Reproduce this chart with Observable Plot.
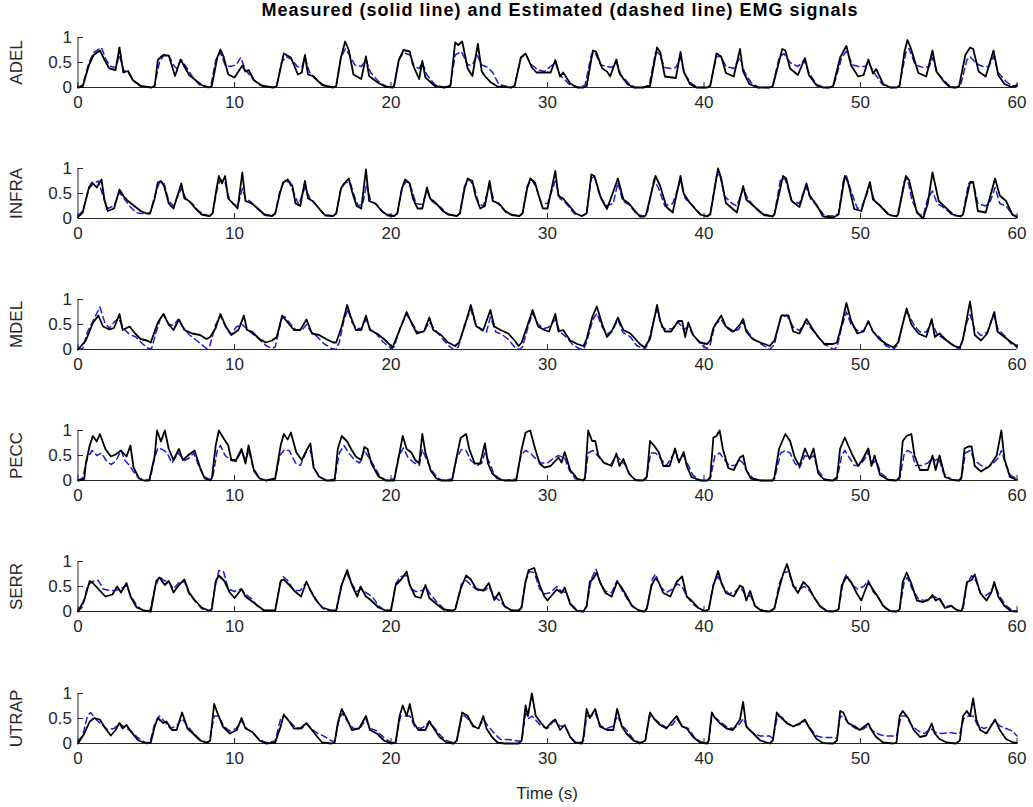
<!DOCTYPE html>
<html>
<head>
<meta charset="utf-8">
<script src="https://cdn.jsdelivr.net/npm/d3@7"></script>
<script src="https://cdn.jsdelivr.net/npm/@observablehq/plot@0.6"></script>
<style>
  body { margin: 0; background: #ffffff; }
  #fig { position: relative; width: 1033px; height: 807px; font-family: "Liberation Sans", Arial, sans-serif; color: #262626; }
  #title { position: absolute; left: 60px; width: 1000px; top: 0px; text-align: center; font-weight: bold; font-size: 18px; letter-spacing: 1px; color: #000; }
  #xlabel { position: absolute; left: 77px; width: 940px; top: 784px; text-align: center; font-size: 17px; color: #262626; }
  .panel { position: absolute; left: 0; }
</style>
</head>
<body>
<div id="fig">
  <div id="title">Measured (solid line) and Estimated (dashed line) EMG signals</div>
  <div id="xlabel">Time (s)</div>
</div>
<script>
const muscles = ["ADEL", "INFRA", "MDEL", "PECC", "SERR", "UTRAP"];
const xTicks = [0, 10, 20, 30, 40, 50, 60];
const xTickLabels = ["0", "10", "20", "30", "40", "50", "60"];
const yTicks = [0, 0.5, 1];
const yTickLabels = ["0", "0.5", "1"];

// [time (s), normalised EMG]
const adelMeasured = [[0,0],[0.3,0.02],[0.7,0.45],[1.0,0.65],[1.4,0.74],[1.7,0.55],[2.0,0.38],[2.4,0.35],[2.65,0.8],[2.9,0.3],[3.2,0.33],[3.5,0.15],[4.0,0.03],[4.7,0],
[4.9,0.02],[5.1,0.55],[5.4,0.64],[5.8,0.64],[6.2,0.23],[6.55,0.56],[7.1,0.25],[7.9,0.05],[8.4,0],
[8.55,0.03],[8.9,0.6],[9.1,0.76],[9.3,0.62],[9.6,0.26],[10.0,0.2],[10.5,0.44],[10.7,0.32],[10.9,0.35],[11.25,0.14],[11.8,0.03],[12.5,0],
[12.7,0.03],[13.15,0.68],[13.6,0.6],[14.05,0.26],[14.3,0.3],[14.5,0.65],[14.7,0.26],[15.0,0.23],[15.6,0.05],[16.3,0],
[16.5,0.03],[16.8,0.6],[17.07,0.92],[17.3,0.75],[17.6,0.26],[18.1,0.17],[18.4,0.62],[18.6,0.23],[19.1,0.11],[19.6,0.02],[20.1,0],
[20.2,0.03],[20.5,0.55],[20.8,0.75],[21.2,0.72],[21.4,0.45],[21.8,0.17],[22.0,0.53],[22.2,0.2],[22.8,0.03],[23.4,0],
[23.8,0.03],[24.1,0.9],[24.3,0.85],[24.55,0.92],[24.9,0.38],[25.2,0.23],[25.55,0.87],[25.8,0.32],[26.0,0.23],[26.35,0.11],[26.8,0.02],[27.7,0],
[27.9,0.03],[28.3,0.6],[28.6,0.68],[29.0,0.4],[29.3,0.3],[29.8,0.3],[30.2,0.3],[30.5,0.55],[30.8,0.22],[31.0,0.3],[31.45,0.08],[31.9,0],[32.3,0],
[32.5,0.03],[32.9,0.74],[33.1,0.72],[33.5,0.38],[33.8,0.32],[34.0,0.22],[34.4,0.56],[34.6,0.28],[35.1,0.07],[35.5,0],[36.1,0],
[36.55,0.03],[37.0,0.8],[37.2,0.71],[37.5,0.22],[38.2,0.19],[38.5,0.71],[38.7,0.32],[39.1,0.07],[39.5,0],[40.2,0],
[40.4,0.03],[40.8,0.68],[41.1,0.62],[41.4,0.29],[41.9,0.22],[42.3,0.77],[42.5,0.32],[42.9,0.07],[43.4,0],[44.2,0],
[44.4,0.03],[45.0,0.77],[45.2,0.74],[45.5,0.38],[46.0,0.25],[46.45,0.59],[46.7,0.25],[47.2,0.04],[47.6,0],[48.0,0],
[48.25,0.03],[48.7,0.6],[49.1,0.83],[49.4,0.44],[49.85,0.22],[50.2,0.25],[50.5,0.56],[50.8,0.28],[51.0,0.37],[51.45,0.07],[51.9,0],[52.3,0],
[52.5,0.03],[52.8,0.7],[53.0,0.95],[53.2,0.8],[53.7,0.29],[54.2,0.22],[54.6,0.74],[54.85,0.32],[55.3,0.13],[55.7,0.01],[56.1,0],
[56.3,0.03],[56.7,0.65],[57.0,0.8],[57.2,0.77],[57.55,0.32],[58.0,0.22],[58.5,0.74],[58.8,0.25],[59.2,0.07],[59.65,0.01],[60,0.05]];

const adelEstimated = [[0,0],[0.3,0.05],[0.7,0.5],[1.0,0.7],[1.5,0.8],[1.8,0.55],[2.1,0.42],[2.4,0.4],[2.65,0.65],[2.9,0.35],[3.2,0.3],[3.6,0.12],[4.1,0.02],[4.7,0],
[4.9,0.05],[5.2,0.5],[5.5,0.66],[5.8,0.64],[6.1,0.45],[6.3,0.38],[6.6,0.55],[6.9,0.42],[7.3,0.22],[7.8,0.04],[8.3,0],
[8.5,0.05],[8.8,0.55],[9.1,0.7],[9.4,0.45],[9.7,0.42],[10.1,0.45],[10.4,0.6],[10.7,0.35],[11.1,0.2],[11.6,0.05],[12.5,0],
[12.7,0.05],[13.0,0.5],[13.3,0.62],[13.7,0.55],[14.0,0.42],[14.3,0.4],[14.5,0.6],[14.8,0.3],[15.2,0.18],[15.7,0.04],[16.3,0],
[16.5,0.05],[16.8,0.6],[17.1,0.78],[17.4,0.62],[17.7,0.45],[18.1,0.42],[18.4,0.55],[18.7,0.3],[19.2,0.12],[19.7,0.02],[20.1,0],
[20.2,0.05],[20.5,0.55],[20.8,0.7],[21.2,0.65],[21.5,0.42],[21.8,0.38],[22.0,0.5],[22.3,0.25],[22.8,0.06],[23.4,0],
[23.8,0.05],[24.1,0.65],[24.5,0.72],[24.9,0.45],[25.2,0.45],[25.5,0.65],[25.8,0.45],[26.2,0.4],[26.5,0.3],[26.9,0.06],[27.7,0],
[27.9,0.05],[28.3,0.6],[28.6,0.66],[29.0,0.45],[29.4,0.35],[29.8,0.32],[30.5,0.5],[30.8,0.25],[31.4,0.06],[32.0,0],
[32.4,0.05],[32.8,0.65],[33.0,0.72],[33.4,0.45],[33.8,0.42],[34.1,0.4],[34.4,0.5],[34.7,0.25],[35.2,0.08],[35.6,0],[36.1,0],
[36.5,0.05],[36.9,0.7],[37.1,0.7],[37.5,0.4],[37.9,0.38],[38.2,0.4],[38.5,0.6],[38.8,0.25],[39.2,0.08],[39.6,0],[40.2,0],
[40.4,0.05],[40.8,0.62],[41.1,0.62],[41.4,0.42],[41.9,0.38],[42.3,0.6],[42.6,0.3],[43.0,0.1],[43.5,0],[44.2,0],
[44.4,0.05],[44.8,0.6],[45.1,0.68],[45.5,0.5],[46.0,0.42],[46.4,0.55],[46.7,0.3],[47.2,0.06],[47.7,0],[48.1,0],
[48.3,0.05],[48.8,0.6],[49.1,0.72],[49.5,0.45],[49.9,0.42],[50.3,0.42],[50.5,0.5],[50.9,0.28],[51.4,0.06],[51.9,0],[52.3,0],
[52.5,0.05],[52.9,0.7],[53.1,0.78],[53.5,0.45],[54.0,0.4],[54.4,0.42],[54.6,0.6],[54.9,0.3],[55.4,0.12],[55.8,0],[56.2,0],
[56.4,0.05],[56.8,0.55],[57.0,0.62],[57.4,0.48],[57.8,0.42],[58.2,0.42],[58.5,0.62],[58.8,0.3],[59.3,0.12],[59.7,0.03],[60,0.02]];

const infraMeasured = [[0,0.03],[0.3,0.12],[0.7,0.62],[0.9,0.72],[1.2,0.62],[1.5,0.78],[1.7,0.35],[1.9,0.15],[2.3,0.2],[2.65,0.58],[2.9,0.45],[3.2,0.35],[3.6,0.25],[4.0,0.15],[4.4,0.1],
[4.6,0.1],[4.9,0.4],[5.1,0.72],[5.3,0.75],[5.5,0.65],[5.8,0.3],[6.1,0.2],[6.6,0.7],[6.8,0.4],[7.1,0.35],[7.5,0.2],[7.9,0.08],[8.4,0.05],
[8.6,0.1],[8.8,0.5],[9.0,0.85],[9.2,0.7],[9.4,0.85],[9.6,0.4],[9.9,0.3],[10.2,0.2],[10.5,0.92],[10.7,0.35],[11.1,0.3],[11.5,0.2],[11.9,0.08],[12.4,0.05],
[12.6,0.1],[12.9,0.5],[13.1,0.72],[13.4,0.78],[13.7,0.65],[13.9,0.3],[14.2,0.25],[14.5,0.75],[14.7,0.4],[15.0,0.35],[15.4,0.2],[15.8,0.06],[16.3,0.05],
[16.5,0.1],[16.8,0.6],[17.0,0.7],[17.3,0.8],[17.5,0.55],[17.8,0.25],[18.1,0.2],[18.4,0.98],[18.6,0.35],[19.0,0.3],[19.4,0.15],[19.8,0.06],[20.2,0.05],
[20.4,0.1],[20.7,0.6],[20.9,0.78],[21.2,0.7],[21.4,0.4],[21.7,0.2],[22.0,0.2],[22.3,0.62],[22.5,0.4],[22.9,0.3],[23.3,0.15],[23.7,0.08],[24.2,0.05],
[24.4,0.1],[24.7,0.6],[24.9,0.8],[25.2,0.75],[25.4,0.45],[25.7,0.2],[26.0,0.25],[26.3,0.75],[26.5,0.35],[26.9,0.3],[27.3,0.15],[27.7,0.07],[28.2,0.05],
[28.4,0.1],[28.7,0.6],[28.9,0.8],[29.2,0.72],[29.4,0.5],[29.7,0.2],[30.0,0.2],[30.5,0.95],[30.7,0.45],[31.0,0.4],[31.4,0.25],[31.8,0.1],[32.2,0.05],
[32.5,0.1],[32.8,0.88],[33.0,0.85],[33.4,0.42],[33.8,0.19],[34.5,0.8],[34.85,0.38],[35.2,0.3],[35.9,0.04],[36.2,0.04],
[36.3,0.08],[36.9,0.85],[37.2,0.65],[37.6,0.23],[38.0,0.12],[38.5,0.85],[38.7,0.5],[39.1,0.31],[39.75,0.08],[40.2,0.04],
[40.4,0.08],[40.9,1.0],[41.1,0.8],[41.4,0.31],[42.1,0.12],[42.5,0.65],[42.7,0.38],[43.1,0.27],[43.8,0.08],[44.4,0.04],
[44.5,0.08],[45.05,0.85],[45.25,0.8],[45.6,0.35],[46.1,0.23],[46.55,0.7],[46.75,0.46],[47.2,0.27],[47.6,0.04],[48.25,0.02],
[48.6,0.08],[49.0,0.85],[49.2,0.73],[49.6,0.19],[50.05,0.15],[50.6,0.73],[50.8,0.38],[51.2,0.27],[51.8,0.08],[52.3,0.04],
[52.4,0.08],[52.9,0.85],[53.1,0.77],[53.6,0.12],[54.0,0.0],[54.3,0.3],[54.6,0.92],[55.0,0.35],[55.4,0.23],[55.9,0.08],[56.4,0.04],
[56.55,0.08],[57.0,0.73],[57.2,0.73],[57.5,0.15],[58.0,0.12],[58.6,0.8],[58.9,0.46],[59.3,0.35],[59.7,0.08],[60,0.02]];

const infraEstimated = [[0,0.05],[0.3,0.15],[0.7,0.6],[1.0,0.7],[1.3,0.75],[1.6,0.45],[1.9,0.2],[2.3,0.25],[2.65,0.52],[2.9,0.42],[3.3,0.25],[3.7,0.12],[4.0,0.1],[4.4,0.1],
[4.6,0.1],[4.9,0.45],[5.2,0.72],[5.5,0.7],[5.8,0.35],[6.1,0.25],[6.6,0.6],[6.9,0.4],[7.3,0.3],[7.7,0.15],[8.2,0.06],[8.4,0.05],
[8.6,0.1],[8.9,0.6],[9.1,0.78],[9.4,0.72],[9.6,0.45],[9.9,0.3],[10.2,0.25],[10.5,0.6],[10.7,0.4],[11.1,0.32],[11.5,0.18],[12.0,0.06],[12.4,0.05],
[12.6,0.1],[12.9,0.55],[13.2,0.75],[13.5,0.72],[13.8,0.5],[14.1,0.28],[14.5,0.62],[14.8,0.42],[15.2,0.28],[15.7,0.08],[16.3,0.05],
[16.5,0.1],[16.8,0.6],[17.1,0.72],[17.4,0.72],[17.6,0.5],[17.9,0.25],[18.2,0.3],[18.45,0.7],[18.7,0.35],[19.1,0.28],[19.5,0.12],[20.2,0.05],
[20.4,0.1],[20.7,0.62],[21.0,0.75],[21.3,0.6],[21.6,0.3],[22.0,0.28],[22.3,0.55],[22.6,0.35],[23.0,0.25],[23.2,0.22],[23.6,0.08],[24.2,0.05],
[24.4,0.1],[24.7,0.65],[25.0,0.78],[25.3,0.65],[25.6,0.3],[25.9,0.25],[26.3,0.65],[26.6,0.35],[27.0,0.25],[27.4,0.1],[28.2,0.05],
[28.4,0.1],[28.7,0.65],[29.0,0.78],[29.3,0.6],[29.6,0.3],[30.0,0.3],[30.5,0.75],[30.8,0.4],[31.2,0.3],[31.7,0.1],[32.2,0.05],
[32.5,0.1],[32.8,0.8],[33.0,0.85],[33.3,0.5],[33.7,0.25],[34.2,0.3],[34.5,0.72],[34.8,0.35],[35.2,0.28],[35.7,0.08],[36.2,0.05],
[36.4,0.15],[36.8,0.78],[37.1,0.6],[37.5,0.25],[38.0,0.3],[38.5,0.75],[38.8,0.4],[39.3,0.25],[39.8,0.08],[40.2,0.05],
[40.4,0.1],[40.8,0.85],[41.0,0.9],[41.3,0.45],[41.8,0.3],[42.1,0.25],[42.5,0.6],[42.8,0.4],[43.3,0.2],[43.8,0.06],[44.4,0.05],
[44.5,0.1],[44.9,0.8],[45.2,0.78],[45.6,0.35],[46.1,0.3],[46.5,0.65],[46.8,0.4],[47.2,0.25],[47.7,0.06],[48.3,0.05],
[48.6,0.1],[48.9,0.75],[49.1,0.85],[49.4,0.55],[49.8,0.2],[50.1,0.25],[50.6,0.65],[50.9,0.35],[51.3,0.25],[51.8,0.06],[52.3,0.05],
[52.4,0.1],[52.8,0.75],[53.0,0.8],[53.3,0.35],[53.7,0.1],[54.0,0.05],[54.3,0.4],[54.6,0.55],[54.9,0.3],[55.4,0.2],[55.9,0.06],[56.4,0.05],
[56.55,0.1],[56.9,0.7],[57.2,0.72],[57.5,0.3],[58.0,0.25],[58.3,0.35],[58.6,0.62],[58.9,0.3],[59.3,0.25],[59.7,0.08],[60,0.05]];

const mdelMeasured = [[0,0],[0.5,0.18],[0.95,0.53],[1.3,0.68],[1.6,0.46],[2.0,0.4],[2.3,0.43],[2.65,0.71],[2.85,0.39],[3.3,0.46],[3.65,0.32],[4.0,0.21],[4.4,0.18],
[4.65,0.14],[5.1,0.54],[5.45,0.71],[5.8,0.5],[6.1,0.39],[6.45,0.6],[6.8,0.39],[7.3,0.32],[7.8,0.29],[8.2,0.21],
[8.45,0.25],[8.8,0.43],[9.1,0.71],[9.45,0.46],[9.8,0.29],[10.25,0.39],[10.6,0.68],[10.8,0.39],[11.1,0.36],[11.6,0.21],[12.0,0.14],[12.4,0.18],
[12.7,0.25],[13.05,0.68],[13.4,0.54],[13.8,0.39],[14.2,0.39],[14.6,0.6],[14.95,0.32],[15.4,0.29],[15.85,0.21],[16.3,0.14],
[16.5,0.14],[16.85,0.46],[17.2,0.89],[17.4,0.68],[17.75,0.39],[18.1,0.39],[18.4,0.68],[18.65,0.39],[19.1,0.32],[19.55,0.21],[20.0,0.07],
[20.1,0.04],[20.55,0.39],[21.0,0.75],[21.3,0.54],[21.65,0.32],[22.1,0.36],[22.45,0.64],[22.7,0.39],[23.2,0.29],[23.65,0.14],[24.1,0.07],
[24.35,0.14],[24.7,0.46],[25.1,0.89],[25.45,0.46],[25.9,0.39],[26.35,0.79],[26.6,0.46],[27.0,0.39],[27.5,0.32],[27.9,0.18],[28.15,0.07],
[28.35,0.14],[28.7,0.46],[29.05,0.79],[29.4,0.46],[29.8,0.39],[30.1,0.36],[30.5,0.71],[30.7,0.36],[31.0,0.39],[31.45,0.18],[31.9,0.11],[32.3,0.07],
[32.5,0.21],[32.85,0.64],[33.15,0.86],[33.5,0.5],[33.8,0.25],[34.1,0.36],[34.5,0.64],[34.85,0.39],[35.3,0.32],[35.9,0.11],[36.2,0.04],
[36.55,0.21],[37.0,0.89],[37.2,0.57],[37.5,0.36],[37.9,0.36],[38.35,0.57],[38.6,0.57],[38.8,0.25],[39.0,0.54],[39.3,0.29],[39.75,0.14],[40.2,0.11],
[40.4,0.18],[40.6,0.43],[41.1,0.68],[41.4,0.46],[41.9,0.36],[42.3,0.5],[42.5,0.61],[42.7,0.36],[43.1,0.21],[43.6,0.14],[44.2,0.07],
[44.5,0.18],[44.95,0.68],[45.4,0.68],[45.7,0.36],[46.1,0.32],[46.55,0.61],[46.9,0.43],[47.3,0.25],[47.7,0.11],[48.25,0.11],
[48.5,0.14],[48.8,0.5],[49.1,0.93],[49.4,0.57],[49.8,0.32],[50.2,0.36],[50.5,0.57],[50.8,0.36],[51.2,0.21],[51.65,0.11],[52.1,0.04],
[52.4,0.14],[52.95,0.82],[53.25,0.5],[53.7,0.32],[54.2,0.25],[54.55,0.61],[54.75,0.25],[55.05,0.32],[55.5,0.18],[56.0,0.07],[56.35,0.04],
[56.55,0.21],[57.0,0.96],[57.3,0.29],[57.7,0.18],[58.1,0.32],[58.55,0.75],[58.75,0.36],[59.2,0.25],[59.65,0.14],[60,0.07]];

const mdelEstimated = [[0,0],[0.3,0.02],[0.6,0.35],[1.0,0.6],[1.4,0.85],[1.7,0.55],[2.0,0.42],[2.3,0.55],[2.6,0.62],[2.9,0.42],[3.3,0.3],[3.7,0.25],[4.1,0.12],[4.5,0.02],
[4.7,0.02],[5.0,0.35],[5.3,0.65],[5.5,0.7],[5.8,0.5],[6.1,0.48],[6.4,0.6],[6.7,0.45],[7.1,0.3],[7.5,0.2],[7.9,0.1],[8.2,0.02],
[8.4,0.05],[8.8,0.5],[9.1,0.68],[9.5,0.4],[9.8,0.3],[10.1,0.45],[10.5,0.5],[10.8,0.4],[11.2,0.3],[11.6,0.2],[12.0,0.08],[12.4,0.02],
[12.6,0.05],[13.0,0.6],[13.2,0.66],[13.6,0.5],[13.9,0.4],[14.3,0.38],[14.6,0.5],[14.9,0.35],[15.3,0.25],[15.7,0.12],[16.2,0.02],[16.5,0],
[16.7,0.15],[17.0,0.6],[17.25,0.8],[17.5,0.55],[17.8,0.42],[18.1,0.42],[18.4,0.6],[18.7,0.4],[19.1,0.3],[19.5,0.15],[20.0,0.02],
[20.2,0.05],[20.6,0.45],[21.0,0.7],[21.3,0.55],[21.7,0.35],[22.1,0.35],[22.45,0.55],[22.8,0.4],[23.2,0.25],[23.6,0.1],[24.0,0],
[24.3,0.05],[24.7,0.5],[25.1,0.8],[25.4,0.5],[25.8,0.38],[26.1,0.35],[26.35,0.65],[26.7,0.35],[27.1,0.3],[27.5,0.2],[27.9,0.05],[28.2,0],
[28.4,0.05],[28.8,0.5],[29.05,0.72],[29.4,0.5],[29.8,0.42],[30.1,0.45],[30.5,0.6],[30.8,0.35],[31.2,0.25],[31.6,0.1],[32.0,0.02],[32.3,0],
[32.5,0.15],[32.9,0.6],[33.15,0.72],[33.5,0.45],[33.8,0.3],[34.2,0.4],[34.5,0.6],[34.8,0.35],[35.3,0.25],[35.7,0.08],[36.2,0],
[36.4,0.1],[36.8,0.6],[37.0,0.8],[37.3,0.45],[37.6,0.4],[38.0,0.42],[38.35,0.55],[38.7,0.4],[39.0,0.45],[39.4,0.25],[39.8,0.1],[40.2,0.02],
[40.4,0.1],[40.7,0.5],[41.1,0.6],[41.4,0.45],[41.8,0.35],[42.2,0.4],[42.5,0.55],[42.8,0.35],[43.2,0.2],[43.6,0.12],[44.2,0],
[44.5,0.1],[44.9,0.65],[45.3,0.68],[45.7,0.45],[46.1,0.38],[46.5,0.55],[46.9,0.4],[47.3,0.25],[47.7,0.1],[48.3,0],
[48.5,0.05],[48.8,0.45],[49.1,0.75],[49.4,0.5],[49.9,0.35],[50.2,0.38],[50.5,0.55],[50.8,0.35],[51.2,0.25],[51.6,0.08],[52.1,0],
[52.4,0.1],[52.8,0.65],[53.0,0.75],[53.4,0.5],[53.8,0.35],[54.2,0.35],[54.55,0.55],[54.9,0.3],[55.4,0.2],[55.9,0.08],[56.35,0],
[56.5,0.15],[56.8,0.55],[57.0,0.7],[57.3,0.4],[57.7,0.28],[58.1,0.35],[58.5,0.7],[58.8,0.4],[59.2,0.28],[59.6,0.12],[60,0.05]];

const peccMeasured = [[0,0],[0.4,0.03],[0.5,0.34],[0.75,0.7],[0.95,0.89],[1.2,0.78],[1.4,0.93],[1.75,0.63],[2.1,0.48],[2.4,0.52],[2.75,0.6],[3.1,0.48],[3.35,0.7],[3.55,0.26],[3.9,0.04],[4.2,0],
[4.55,0],[4.9,0.49],[5.05,1.0],[5.3,0.78],[5.55,1.0],[5.8,0.63],[6.1,0.41],[6.45,0.63],[6.7,0.41],[7.1,0.52],[7.45,0.6],[7.8,0.26],[8.1,0.04],[8.45,0],
[8.55,0.04],[8.8,0.7],[9.0,1.0],[9.35,0.82],[9.6,0.7],[9.8,0.41],[10.1,0.41],[10.45,0.63],[10.7,0.34],[10.9,0.7],[11.25,0.19],[11.6,0.04],[12.0,0],
[12.6,0.04],[12.95,0.7],[13.15,0.93],[13.4,0.82],[13.6,0.96],[13.95,0.56],[14.3,0.41],[14.6,0.6],[14.85,0.74],[15.05,0.26],[15.4,0.08],[15.85,0],
[16.4,0],[16.6,0.63],[16.85,0.89],[17.2,0.78],[17.45,0.63],[17.75,0.48],[18.1,0.41],[18.3,0.67],[18.5,0.63],[18.75,0.34],[19.2,0.08],[19.65,0],
[20.2,0],[20.5,0.48],[20.75,0.89],[21.0,0.63],[21.3,0.56],[21.55,0.41],[21.8,0.34],[22.0,0.93],[22.2,0.56],[22.55,0.19],[22.9,0.04],[23.2,0],
[23.9,0],[24.2,0.48],[24.45,0.85],[24.8,0.93],[25.0,0.63],[25.35,0.34],[25.7,0.34],[26.0,0.74],[26.2,0.34],[26.45,0.15],[26.8,0.04],[27.25,0],
[28.0,0],[28.35,0.63],[28.6,0.96],[28.9,1.0],[29.15,0.7],[29.5,0.34],[29.8,0.26],[30.2,0.29],[30.7,0.46],[30.9,0.36],[31.1,0.57],[31.45,0.21],[31.9,0.04],[32.3,0],
[32.4,0.07],[32.6,1.0],[32.85,0.79],[33.05,0.79],[33.25,0.5],[33.6,0.36],[34.1,0.29],[34.4,0.54],[34.6,0.29],[34.85,0.43],[35.2,0.14],[35.6,0.01],[36.1,0],
[36.35,0.07],[36.55,0.79],[36.85,0.68],[37.1,0.57],[37.4,0.29],[37.8,0.29],[38.15,0.64],[38.4,0.36],[38.7,0.57],[38.9,0.29],[39.2,0.07],[39.75,0],[40.2,0],
[40.4,0.07],[40.6,0.86],[40.8,0.89],[41.0,1.0],[41.2,0.64],[41.55,0.25],[41.9,0.21],[42.3,0.46],[42.5,0.5],[42.7,0.21],[43.0,0.04],[43.6,0],[44.4,0],
[44.5,0.07],[44.8,0.64],[45.2,0.93],[45.5,0.79],[45.8,0.46],[46.1,0.29],[46.45,0.64],[46.75,0.43],[47.0,0.64],[47.3,0.14],[47.7,0.01],[48.25,0],
[48.5,0.07],[48.7,0.64],[49.0,0.86],[49.2,0.71],[49.5,0.5],[49.85,0.29],[50.15,0.43],[50.5,0.64],[50.7,0.29],[50.9,0.5],[51.25,0.11],[51.8,0.01],[52.3,0],
[52.5,0.07],[52.7,0.79],[52.95,0.89],[53.25,0.93],[53.45,0.5],[53.8,0.21],[54.3,0.21],[54.6,0.5],[54.8,0.21],[55.05,0.5],[55.4,0.07],[55.9,0.01],[56.3,0],
[56.45,0.07],[56.65,0.64],[56.9,0.68],[57.1,0.68],[57.3,0.29],[57.7,0.18],[58.25,0.29],[58.7,0.5],[59.0,1.0],[59.2,0.43],[59.55,0.07],[60,0.01]];

const peccEstimated = [[0,0],[0.3,0.05],[0.6,0.45],[0.9,0.6],[1.2,0.5],[1.5,0.55],[1.8,0.4],[2.1,0.32],[2.4,0.38],[2.75,0.6],[3.0,0.4],[3.3,0.3],[3.6,0.15],[3.9,0.05],[4.3,0],
[4.6,0.02],[4.9,0.45],[5.1,0.65],[5.4,0.62],[5.7,0.55],[6.0,0.35],[6.4,0.55],[6.8,0.4],[7.1,0.45],[7.4,0.55],[7.7,0.3],[8.0,0.1],[8.4,0.02],
[8.6,0.05],[8.9,0.6],[9.1,0.7],[9.4,0.5],[9.8,0.4],[10.1,0.38],[10.45,0.6],[10.7,0.4],[10.9,0.6],[11.2,0.25],[11.6,0.05],[12.0,0],
[12.6,0.03],[12.9,0.5],[13.2,0.62],[13.5,0.6],[13.9,0.35],[14.2,0.3],[14.6,0.58],[14.85,0.6],[15.1,0.25],[15.4,0.08],[15.9,0],
[16.4,0.03],[16.7,0.55],[17.0,0.7],[17.3,0.55],[17.7,0.4],[18.0,0.35],[18.3,0.6],[18.6,0.45],[18.9,0.3],[19.3,0.08],[19.7,0],
[20.2,0.03],[20.5,0.5],[20.8,0.65],[21.1,0.45],[21.5,0.35],[21.8,0.3],[22.0,0.62],[22.3,0.4],[22.6,0.2],[23.0,0.05],[23.3,0],
[23.9,0.03],[24.2,0.45],[24.5,0.62],[24.8,0.6],[25.1,0.4],[25.5,0.3],[25.8,0.35],[26.0,0.55],[26.3,0.35],[26.6,0.12],[27.0,0.02],[27.3,0],
[28.0,0.03],[28.3,0.5],[28.6,0.6],[28.9,0.55],[29.2,0.45],[29.6,0.35],[30.0,0.35],[30.4,0.45],[30.7,0.5],[31.1,0.45],[31.4,0.2],[31.8,0.03],[32.3,0],
[32.4,0.03],[32.6,0.55],[32.9,0.6],[33.2,0.5],[33.6,0.35],[34.0,0.3],[34.4,0.5],[34.7,0.4],[35.0,0.3],[35.3,0.1],[35.7,0],[36.1,0],
[36.3,0.03],[36.6,0.55],[36.9,0.55],[37.2,0.45],[37.6,0.3],[38.1,0.55],[38.4,0.4],[38.7,0.5],[39.0,0.3],[39.3,0.1],[39.8,0],[40.2,0],
[40.4,0.03],[40.7,0.5],[41.0,0.55],[41.3,0.42],[41.6,0.3],[42.0,0.3],[42.3,0.4],[42.5,0.35],[42.7,0.2],[43.1,0.05],[43.6,0],[44.4,0],
[44.5,0.03],[44.9,0.55],[45.2,0.6],[45.5,0.55],[45.8,0.35],[46.1,0.25],[46.45,0.5],[46.8,0.45],[47.0,0.5],[47.3,0.2],[47.7,0.03],[48.2,0],
[48.5,0.03],[48.8,0.5],[49.0,0.6],[49.3,0.45],[49.6,0.3],[49.9,0.3],[50.2,0.4],[50.5,0.55],[50.8,0.35],[51.0,0.4],[51.3,0.15],[51.8,0.02],[52.3,0],
[52.5,0.03],[52.8,0.55],[53.0,0.6],[53.3,0.55],[53.5,0.3],[53.9,0.3],[54.3,0.35],[54.6,0.45],[54.8,0.4],[55.0,0.45],[55.3,0.15],[55.8,0.02],[56.3,0],
[56.45,0.03],[56.7,0.55],[57.0,0.6],[57.3,0.4],[57.7,0.3],[58.1,0.25],[58.5,0.35],[58.8,0.45],[59.0,0.6],[59.3,0.3],[59.6,0.1],[60,0.03]];

const serrMeasured = [[0,0],[0.4,0.23],[0.75,0.61],[0.95,0.57],[1.3,0.45],[1.75,0.3],[2.2,0.34],[2.5,0.5],[2.75,0.38],[3.1,0.57],[3.35,0.3],[3.75,0.08],[4.2,0.02],
[4.65,0],[5.0,0.61],[5.2,0.68],[5.55,0.53],[5.8,0.61],[6.1,0.38],[6.45,0.53],[6.8,0.64],[7.1,0.38],[7.45,0.23],[7.9,0.08],[8.35,0.02],
[8.55,0.04],[8.8,0.61],[9.0,0.72],[9.35,0.61],[9.7,0.38],[10.0,0.27],[10.45,0.45],[10.7,0.3],[11.0,0.23],[11.5,0.11],[11.9,0.02],
[12.6,0.02],[12.95,0.61],[13.15,0.64],[13.5,0.53],[13.8,0.42],[14.25,0.3],[14.6,0.6],[14.85,0.42],[15.2,0.23],[15.6,0.08],[16.2,0.02],
[16.5,0.02],[16.85,0.53],[17.2,0.83],[17.5,0.53],[17.85,0.3],[18.05,0.5],[18.4,0.3],[18.7,0.23],[19.2,0.08],[19.65,0.02],
[20.0,0.02],[20.3,0.53],[20.65,0.64],[21.0,0.8],[21.2,0.53],[21.55,0.3],[21.9,0.27],[22.2,0.53],[22.45,0.27],[22.9,0.15],[23.35,0.04],[23.9,0.02],
[24.1,0.04],[24.45,0.45],[24.8,0.72],[25.1,0.64],[25.45,0.45],[25.9,0.42],[26.25,0.57],[26.6,0.23],[26.9,0.38],[27.25,0.11],[27.7,0.02],[28.15,0.02],
[28.35,0.08],[28.6,0.61],[28.8,0.83],[29.15,0.87],[29.5,0.53],[29.8,0.3],[30.0,0.22],[30.4,0.37],[30.6,0.44],[30.9,0.37],[31.1,0.48],[31.45,0.15],[31.9,0.01],[32.3,0],
[32.5,0.11],[32.7,0.59],[32.95,0.67],[33.15,0.78],[33.35,0.59],[33.7,0.37],[34.1,0.3],[34.45,0.59],[34.65,0.52],[34.95,0.37],[35.4,0.11],[35.9,0.01],[36.2,0],
[36.35,0.07],[36.65,0.52],[36.9,0.67],[37.1,0.59],[37.4,0.37],[37.85,0.3],[38.25,0.59],[38.6,0.7],[38.9,0.3],[39.2,0.22],[39.65,0.07],[40.05,0.01],
[40.3,0.04],[40.6,0.52],[40.9,0.81],[41.1,0.59],[41.4,0.37],[41.9,0.3],[42.3,0.52],[42.5,0.48],[42.7,0.22],[42.95,0.41],[43.25,0.11],[43.7,0.01],[44.2,0],
[44.5,0.07],[44.85,0.52],[45.05,0.74],[45.3,0.95],[45.5,0.74],[45.7,0.52],[46.0,0.37],[46.35,0.59],[46.7,0.48],[47.0,0.3],[47.4,0.11],[47.85,0.01],[48.25,0],
[48.6,0.04],[48.8,0.52],[49.1,0.7],[49.4,0.59],[49.75,0.37],[50.05,0.22],[50.5,0.59],[50.8,0.44],[51.1,0.3],[51.45,0.11],[51.9,0.01],[52.3,0],
[52.5,0.04],[52.7,0.59],[52.95,0.78],[53.25,0.56],[53.6,0.22],[54.0,0.19],[54.3,0.22],[54.6,0.33],[54.8,0.22],[55.05,0.26],[55.4,0.07],[55.8,0.11],[56.1,0.04],[56.45,0.01],
[56.55,0.11],[56.8,0.59],[57.1,0.63],[57.3,0.74],[57.65,0.37],[58.05,0.22],[58.35,0.37],[58.55,0.59],[58.8,0.3],[59.2,0.11],[59.6,0.01],[60,0]];

const serrEstimated = [[0,0],[0.3,0.1],[0.6,0.5],[0.9,0.6],[1.3,0.62],[1.6,0.45],[2.0,0.42],[2.4,0.42],[2.7,0.45],[3.1,0.52],[3.4,0.3],[3.8,0.1],[4.2,0.02],
[4.6,0.02],[4.9,0.45],[5.2,0.7],[5.5,0.62],[5.8,0.6],[6.1,0.45],[6.45,0.58],[6.8,0.6],[7.1,0.35],[7.5,0.2],[7.9,0.06],[8.3,0],
[8.5,0.03],[8.8,0.55],[9.0,0.82],[9.3,0.8],[9.6,0.45],[10.0,0.4],[10.4,0.45],[10.7,0.35],[11.1,0.25],[11.5,0.1],[11.9,0.02],
[12.6,0.02],[12.9,0.55],[13.1,0.7],[13.4,0.62],[13.8,0.42],[14.2,0.42],[14.6,0.58],[14.9,0.4],[15.3,0.2],[15.7,0.05],[16.2,0],
[16.5,0.02],[16.8,0.5],[17.15,0.78],[17.5,0.55],[17.8,0.4],[18.1,0.45],[18.4,0.38],[18.8,0.3],[19.2,0.12],[19.6,0.02],
[20.0,0.02],[20.3,0.55],[20.6,0.7],[21.0,0.72],[21.3,0.45],[21.6,0.4],[22.0,0.42],[22.2,0.5],[22.5,0.35],[22.9,0.2],[23.4,0.05],[23.9,0],
[24.1,0.03],[24.5,0.55],[24.8,0.62],[25.2,0.5],[25.6,0.42],[26.0,0.42],[26.25,0.5],[26.6,0.3],[27.0,0.2],[27.4,0.05],[28.1,0],
[28.3,0.05],[28.6,0.6],[28.85,0.8],[29.15,0.78],[29.5,0.45],[29.8,0.35],[30.2,0.38],[30.6,0.5],[30.9,0.4],[31.2,0.38],[31.5,0.15],[31.9,0.02],[32.3,0],
[32.5,0.1],[32.8,0.65],[33.1,0.85],[33.4,0.55],[33.7,0.4],[34.1,0.38],[34.45,0.62],[34.8,0.4],[35.2,0.2],[35.6,0.05],[36.2,0],
[36.35,0.05],[36.7,0.65],[36.9,0.75],[37.2,0.5],[37.6,0.38],[38.0,0.45],[38.3,0.55],[38.6,0.5],[38.9,0.3],[39.3,0.15],[39.7,0.05],[40.1,0],
[40.3,0.05],[40.6,0.55],[40.9,0.7],[41.2,0.5],[41.6,0.35],[42.0,0.4],[42.3,0.5],[42.6,0.35],[43.0,0.3],[43.3,0.1],[43.8,0.02],[44.2,0],
[44.5,0.05],[44.8,0.55],[45.1,0.78],[45.4,0.8],[45.7,0.5],[46.1,0.45],[46.4,0.5],[46.8,0.4],[47.1,0.25],[47.5,0.08],[47.9,0],[48.25,0],
[48.6,0.05],[48.9,0.6],[49.1,0.75],[49.4,0.55],[49.8,0.45],[50.2,0.5],[50.5,0.62],[50.8,0.4],[51.2,0.25],[51.6,0.06],[52.0,0],[52.3,0],
[52.5,0.05],[52.8,0.6],[53.0,0.68],[53.3,0.45],[53.7,0.25],[54.1,0.22],[54.4,0.25],[54.7,0.3],[55.0,0.25],[55.4,0.1],[55.8,0.12],[56.2,0.02],[56.45,0],
[56.55,0.05],[56.8,0.55],[57.1,0.72],[57.4,0.6],[57.7,0.35],[58.0,0.32],[58.3,0.38],[58.55,0.55],[58.9,0.3],[59.3,0.12],[59.7,0.02],[60,0]];

const utrapMeasured = [[0,0],[0.4,0.2],[0.75,0.44],[1.05,0.51],[1.4,0.48],[1.75,0.3],[2.1,0.16],[2.4,0.27],[2.65,0.41],[2.85,0.3],[3.1,0.37],[3.4,0.23],[3.85,0.06],[4.4,0],
[4.65,0.02],[4.9,0.34],[5.1,0.51],[5.45,0.41],[5.65,0.44],[6.0,0.27],[6.3,0.27],[6.65,0.62],[7.0,0.3],[7.35,0.2],[7.8,0.06],[8.25,0.01],
[8.45,0.06],[8.7,0.79],[8.9,0.62],[9.25,0.34],[9.7,0.2],[10.15,0.27],[10.45,0.51],[10.7,0.3],[11.15,0.23],[11.6,0.06],[12.0,0],
[12.6,0.02],[12.95,0.34],[13.15,0.58],[13.5,0.44],[13.8,0.3],[14.2,0.3],[14.6,0.41],[14.95,0.27],[15.3,0.13],[15.6,0.02],[16.2,0],
[16.4,0.02],[16.6,0.41],[16.85,0.69],[17.2,0.48],[17.5,0.27],[17.95,0.3],[18.4,0.55],[18.65,0.27],[19.1,0.2],[19.55,0.06],[20.0,0],
[20.3,0.02],[20.55,0.55],[20.75,0.76],[21.0,0.55],[21.2,0.79],[21.45,0.41],[21.75,0.27],[22.2,0.27],[22.45,0.44],[22.8,0.27],[23.1,0.13],[23.55,0.02],[24.0,0],
[24.2,0.06],[24.55,0.62],[24.9,0.55],[25.25,0.34],[25.6,0.3],[25.9,0.55],[26.1,0.3],[26.45,0.13],[26.8,0.02],[27.25,0],[28.15,0],
[28.35,0.06],[28.6,0.76],[28.75,0.55],[29.0,1.0],[29.25,0.55],[29.6,0.41],[29.9,0.3],[30.3,0.44],[30.5,0.48],[30.8,0.27],[31.1,0.37],[31.45,0.13],[31.75,0.02],[32.2,0],
[32.3,0.13],[32.5,0.69],[32.7,0.51],[33.05,0.69],[33.35,0.34],[33.8,0.27],[34.2,0.27],[34.45,0.69],[34.75,0.34],[35.05,0.2],[35.5,0.06],[35.9,0],
[36.25,0.06],[36.55,0.62],[36.85,0.48],[37.2,0.37],[37.6,0.3],[37.95,0.44],[38.25,0.55],[38.6,0.34],[38.9,0.3],[39.3,0.13],[39.75,0.02],[40.2,0],
[40.3,0.06],[40.5,0.62],[40.7,0.51],[41.0,0.41],[41.45,0.3],[41.85,0.27],[42.3,0.48],[42.5,0.83],[42.7,0.34],[43.15,0.2],[43.6,0.06],[44.2,0],
[44.4,0.06],[44.65,0.62],[44.95,0.51],[45.3,0.41],[45.7,0.34],[46.15,0.41],[46.45,0.48],[46.75,0.3],[47.2,0.09],[47.6,0.01],[48.25,0],
[48.5,0.06],[48.7,0.65],[48.9,0.62],[49.2,0.41],[49.65,0.34],[49.95,0.27],[50.5,0.4],[50.7,0.27],[51.0,0.13],[51.45,0.02],[52.1,0],
[52.3,0.02],[52.5,0.55],[52.7,0.65],[53.05,0.51],[53.4,0.27],[53.8,0.13],[54.2,0.16],[54.55,0.4],[54.75,0.2],[55.05,0.09],[55.5,0.02],[56.1,0],
[56.35,0.06],[56.55,0.55],[56.8,0.65],[57.0,0.55],[57.2,0.9],[57.4,0.48],[57.65,0.27],[58.05,0.2],[58.6,0.48],[58.9,0.27],[59.3,0.09],[59.75,0.02],[60,0.01]];

const utrapEstimated = [[0,0.05],[0.3,0.15],[0.6,0.55],[0.8,0.62],[1.1,0.5],[1.5,0.38],[1.9,0.28],[2.3,0.3],[2.65,0.4],[3.0,0.32],[3.4,0.25],[3.8,0.12],[4.3,0.02],
[4.6,0.02],[4.9,0.4],[5.2,0.55],[5.5,0.45],[5.9,0.3],[6.3,0.35],[6.65,0.5],[7.0,0.35],[7.4,0.2],[7.8,0.08],[8.2,0.02],
[8.4,0.05],[8.7,0.55],[9.0,0.55],[9.3,0.35],[9.7,0.25],[10.1,0.3],[10.45,0.45],[10.8,0.3],[11.2,0.2],[11.6,0.08],[12.0,0.02],
[12.6,0.05],[12.95,0.5],[13.2,0.55],[13.5,0.45],[13.9,0.32],[14.3,0.3],[14.6,0.4],[14.9,0.3],[15.3,0.2],[15.7,0.15],[16.2,0.05],
[16.4,0.05],[16.7,0.5],[16.9,0.6],[17.2,0.45],[17.6,0.3],[18.0,0.3],[18.4,0.48],[18.7,0.3],[19.1,0.25],[19.6,0.1],[20.0,0.02],
[20.3,0.05],[20.6,0.55],[20.9,0.55],[21.2,0.55],[21.5,0.35],[21.9,0.3],[22.2,0.35],[22.45,0.45],[22.8,0.3],[23.2,0.15],[23.6,0.05],[24.0,0.02],
[24.2,0.05],[24.55,0.58],[24.9,0.5],[25.3,0.35],[25.6,0.32],[25.9,0.48],[26.2,0.35],[26.6,0.2],[27.0,0.08],[27.5,0.08],[28.1,0.05],
[28.35,0.05],[28.6,0.6],[28.8,0.5],[29.0,0.55],[29.3,0.45],[29.6,0.35],[30.0,0.3],[30.4,0.45],[30.8,0.35],[31.1,0.35],[31.5,0.12],[31.8,0.03],[32.2,0.02],
[32.3,0.05],[32.5,0.55],[32.8,0.55],[33.05,0.6],[33.4,0.35],[33.8,0.3],[34.2,0.35],[34.45,0.55],[34.8,0.35],[35.1,0.25],[35.5,0.08],[35.9,0.02],
[36.25,0.05],[36.5,0.55],[36.8,0.5],[37.2,0.4],[37.6,0.32],[38.0,0.38],[38.25,0.5],[38.6,0.35],[39.0,0.3],[39.4,0.12],[39.8,0.03],[40.2,0.02],
[40.3,0.05],[40.5,0.55],[40.8,0.5],[41.1,0.42],[41.5,0.32],[41.9,0.3],[42.3,0.4],[42.5,0.5],[42.8,0.3],[43.2,0.2],[43.6,0.15],[44.2,0.15],
[44.4,0.1],[44.7,0.55],[45.0,0.52],[45.3,0.4],[45.7,0.35],[46.1,0.38],[46.45,0.45],[46.8,0.3],[47.2,0.15],[47.6,0.12],[48.2,0.12],
[48.5,0.1],[48.7,0.55],[49.0,0.5],[49.3,0.38],[49.7,0.3],[50.1,0.28],[50.5,0.35],[50.8,0.25],[51.2,0.18],[51.6,0.15],[52.1,0.15],
[52.3,0.15],[52.6,0.55],[52.9,0.55],[53.3,0.35],[53.7,0.25],[54.1,0.2],[54.5,0.3],[54.8,0.22],[55.2,0.2],[55.7,0.22],[56.1,0.2],
[56.35,0.2],[56.6,0.5],[56.9,0.55],[57.2,0.55],[57.5,0.35],[57.9,0.3],[58.3,0.35],[58.6,0.45],[58.9,0.35],[59.3,0.3],[59.7,0.25],[60,0.15]];

const measuredSeries = [adelMeasured, infraMeasured, mdelMeasured, peccMeasured, serrMeasured, utrapMeasured];
const estimatedSeries = [adelEstimated, infraEstimated, mdelEstimated, peccEstimated, serrEstimated, utrapEstimated];

const fig = document.getElementById("fig");
const axisColor = "#262626";
const font = "'Liberation Sans', Arial, sans-serif";
const marginTop = 8, plotH = 50, marginBottom = 34;
const firstBaseline = 86.5, spacing = 131.2;

muscles.forEach((name, k) => {
  const meas = measuredSeries[k];
  const est = estimatedSeries[k];
  const chart = Plot.plot({
    width: 1033,
    height: marginTop + plotH + marginBottom,
    marginLeft: 77.5,
    marginRight: 16.5,
    marginTop,
    marginBottom,
    style: {fontFamily: font, fontSize: "17px", color: axisColor, background: "transparent", overflow: "visible"},
    x: {domain: [0, 60]},
    y: {domain: [0, 1]},
    marks: [
      Plot.axisX(xTicks, {tickSize: 0, tickPadding: 8, tickFormat: (d) => xTickLabels[xTicks.indexOf(d)], label: null, fontSize: 17, fill: axisColor}),
      Plot.axisY(yTicks, {tickSize: 0, tickPadding: 6, tickFormat: (d) => yTickLabels[yTicks.indexOf(d)], label: name, labelAnchor: "center", labelArrow: "none", labelOffset: 68, fontSize: 17, fill: axisColor}),
      Plot.ruleY([0], {stroke: axisColor, strokeWidth: 1}),
      Plot.ruleX([0], {y1: 0, y2: 1, stroke: axisColor, strokeWidth: 1}),
      Plot.ruleX(xTicks, {x: (d) => d, y1: 0, y2: 0.1, stroke: axisColor, strokeWidth: 1}),
      Plot.ruleY(yTicks.filter((d) => d > 0), {y: (d) => d, x1: 0, x2: 0.35, stroke: axisColor, strokeWidth: 1}),
      Plot.line(est, {x: (d) => d[0], y: (d) => d[1], stroke: "#1c1cd6", strokeWidth: 1.5, strokeDasharray: "6,4"}),
      Plot.line(meas, {x: (d) => d[0], y: (d) => d[1], stroke: "#000000", strokeWidth: 1.8})
    ]
  });
  const wrap = document.createElement("div");
  wrap.className = "panel";
  wrap.style.top = (firstBaseline + k * spacing - marginTop - plotH) + "px";
  wrap.appendChild(chart);
  fig.appendChild(wrap);
});
</script>
</body>
</html>
